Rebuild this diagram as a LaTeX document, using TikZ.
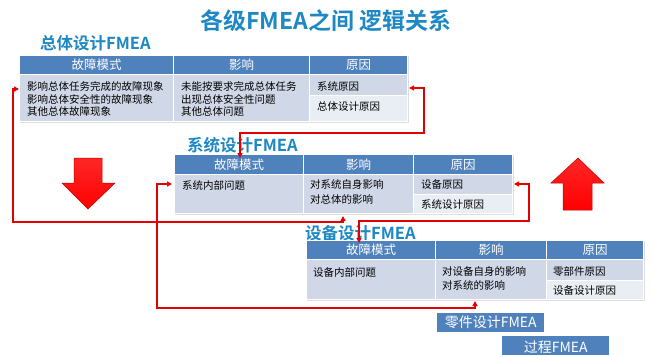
\documentclass[tikz,border=0pt]{standalone}
\usepackage{fontspec}
\setmainfont[BoldFont={Noto Sans CJK SC Bold}]{Noto Sans CJK SC}
\usetikzlibrary{arrows.meta,calc}
\definecolor{hdr}{RGB}{79,129,189}
\definecolor{bodyA}{RGB}{208,216,232}
\definecolor{bodyB}{RGB}{233,237,244}
\definecolor{ttl}{RGB}{30,136,196}
\definecolor{cred}{RGB}{228,0,0}
\tikzset{
  cell/.style={rectangle, draw=white, line width=1pt, inner sep=0pt, anchor=north west},
  hcell/.style={cell, fill=hdr, text=white, font=\fontsize{12.5}{14}\selectfont},
  bcell/.style={cell, fill=bodyA},
  ccell/.style={cell, fill=bodyB},
  btxt/.style={anchor=west, inner sep=0pt, font=\fontsize{10.5}{12}\selectfont},
  lbl/.style={anchor=west, inner sep=0pt, text=ttl, font=\fontsize{16.5}{18}\selectfont\bfseries},
  shadowbox/.style={fill=black!13},
  conn/.style={draw=cred, line width=1.3pt, {Triangle[length=5pt,width=5pt]}-{Triangle[length=5pt,width=5pt]}},
  blockarrow/.style={top color=red!85, bottom color=red, draw=red!75!black, line width=0.5pt},
  plainbox/.style={rectangle, fill=hdr, text=white, inner sep=0pt, anchor=north west, font=\fontsize{14}{16}\selectfont}
}
\begin{document}
\begin{tikzpicture}[x=1pt,y=-1pt]
\useasboundingbox (0,0) rectangle (653,354);
\fill[white] (0,0) rectangle (653,354);

% title
\node[anchor=west, inner sep=0pt, text=ttl, font=\fontsize{23}{26}\selectfont\bfseries] (title) at (200,21) {各级FMEA之间 逻辑关系};

% ---------- table 1 ----------
\node[lbl] (l1) at (40,43) {总体设计FMEA};
\fill[shadowbox] (20,56) rectangle (409,123);
\node[hcell, minimum width=154pt, minimum height=19pt] (t1h1) at (19,55) {故障模式};
\node[hcell, minimum width=136pt, minimum height=19pt] (t1h2) at (173,55) {影响};
\node[hcell, minimum width=98pt, minimum height=19pt] (t1h3) at (309,55) {原因};
\node[bcell, minimum width=154pt, minimum height=47pt] (t1b1) at (19,74) {};
\node[bcell, minimum width=136pt, minimum height=47pt] (t1b2) at (173,74) {};
\node[bcell, minimum width=98pt, minimum height=21pt] (t1b3) at (309,74) {};
\node[ccell, minimum width=98pt, minimum height=26pt] (t1b4) at (309,95) {};
\node[btxt] (t1x1) at (27,86) {影响总体任务完成的故障现象};
\node[btxt] (t1x2) at (27,99) {影响总体安全性的故障现象};
\node[btxt] (t1x3) at (27,112) {其他总体故障现象};
\node[btxt] (t1y1) at (181,86) {未能按要求完成总体任务};
\node[btxt] (t1y2) at (181,99) {出现总体安全性问题};
\node[btxt] (t1y3) at (181,112) {其他总体问题};
\node[btxt] (t1z1) at (317,86) {系统原因};
\node[btxt] (t1z2) at (317,107) {总体设计原因};

% ---------- table 2 ----------
\node[lbl] (l2) at (187,145) {系统设计FMEA};
\fill[shadowbox] (175,155) rectangle (514,215);
\node[hcell, minimum width=129pt, minimum height=20pt] (t2h1) at (174,154) {故障模式};
\node[hcell, minimum width=110pt, minimum height=20pt] (t2h2) at (303,154) {影响};
\node[hcell, minimum width=99pt, minimum height=20pt] (t2h3) at (413,154) {原因};
\node[bcell, minimum width=129pt, minimum height=39pt] (t2b1) at (174,174) {};
\node[bcell, minimum width=110pt, minimum height=39pt] (t2b2) at (303,174) {};
\node[bcell, minimum width=99pt, minimum height=20pt] (t2b3) at (413,174) {};
\node[ccell, minimum width=99pt, minimum height=19pt] (t2b4) at (413,194) {};
\node[btxt] (t2x1) at (182,185) {系统内部问题};
\node[btxt] (t2y1) at (310,185) {对系统自身影响};
\node[btxt] (t2y2) at (310,199) {对总体的影响};
\node[btxt] (t2z1) at (421,185) {设备原因};
\node[btxt] (t2z2) at (421,204) {系统设计原因};

% ---------- table 3 ----------
\node[lbl] (l3) at (305,233) {设备设计FMEA};
\fill[shadowbox] (307,241) rectangle (645,301);
\node[hcell, minimum width=129pt, minimum height=19pt] (t3h1) at (306,240) {故障模式};
\node[hcell, minimum width=111pt, minimum height=19pt] (t3h2) at (435,240) {影响};
\node[hcell, minimum width=97pt, minimum height=19pt] (t3h3) at (546,240) {原因};
\node[bcell, minimum width=129pt, minimum height=40pt] (t3b1) at (306,259) {};
\node[bcell, minimum width=111pt, minimum height=40pt] (t3b2) at (435,259) {};
\node[bcell, minimum width=97pt, minimum height=21pt] (t3b3) at (546,259) {};
\node[ccell, minimum width=97pt, minimum height=19pt] (t3b4) at (546,280) {};
\node[btxt] (t3x1) at (313,272) {设备内部问题};
\node[btxt] (t3y1) at (442,272) {对设备自身的影响};
\node[btxt] (t3y2) at (442,285) {对系统的影响};
\node[btxt] (t3z1) at (553,272) {零部件原因};
\node[btxt] (t3z2) at (553,291) {设备设计原因};

% ---------- lower boxes ----------
\node[plainbox, minimum width=107pt, minimum height=19pt] (part) at (437,313) {零件设计FMEA};
\node[plainbox, minimum width=107pt, minimum height=24pt] (proc) at (502,336) {\raisebox{2.5pt}{过程FMEA}};

% ---------- connectors ----------
\draw[conn] ($(t2b2.south west)+(40,2)$) -- ++(0,6) -| ($(t1b1.north west)+(-6,15)$) -- ($(t1b1.north west)+(0,15)$);
\draw[conn] ($(t1b3.north east)+(1,14)$) -- ++(15,0) -- ++(0,45) -| ($(t2h1.north west)+(66,4)$);
\draw[conn] ($(t2b1.north west)+(-2,10)$) -- ++(-15,0) |- ($(t3b2.south west)+(40,8)$) -- ($(t3b2.south west)+(40,1)$);
\draw[conn] ($(t2b3.north east)+(1,10)$) -- ++(15,0) |- ($(t3h1.north west)+(53,-19)$) -- ($(t3h1.north west)+(53,3)$);

% ---------- block arrows ----------
\draw[blockarrow] (74,158) -- (102,158) -- (102,183) -- (115,183) -- (88,209) -- (62,183) -- (74,183) -- cycle;
\draw[blockarrow] (578,158) -- (604,183) -- (592,183) -- (592,210) -- (563,210) -- (563,183) -- (551,183) -- cycle;
\end{tikzpicture}
\end{document}
